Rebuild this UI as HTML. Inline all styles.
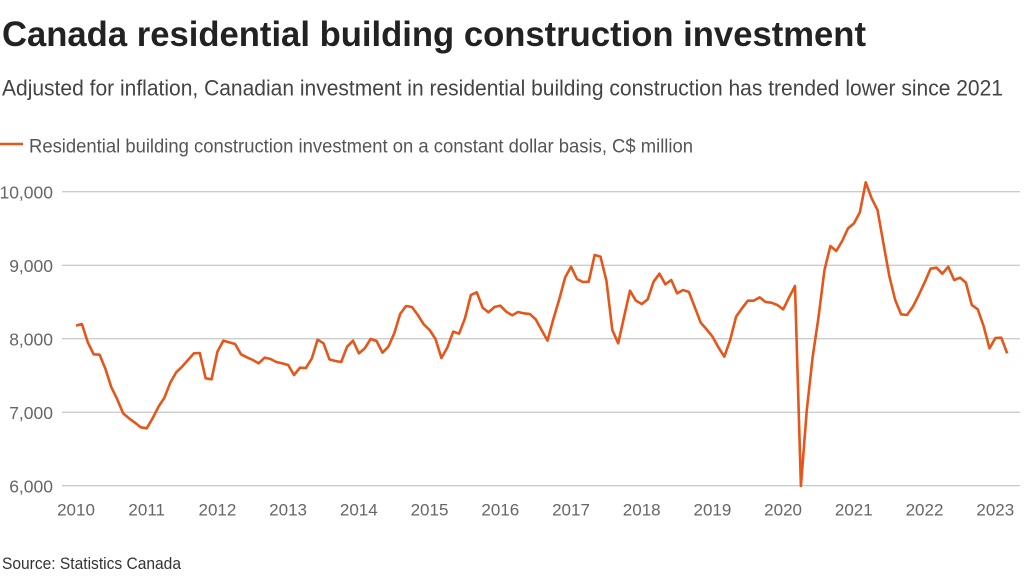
<!DOCTYPE html>
<html>
<head>
<meta charset="utf-8">
<style>
  html,body{margin:0;padding:0;background:#fff;}
  svg{display:block;}
  text{font-family:"Liberation Sans",sans-serif;}
</style>
</head>
<body>
<svg width="1024" height="577" viewBox="0 0 1024 577" xmlns="http://www.w3.org/2000/svg">
  <rect width="1024" height="577" fill="#fff"/>
  <text x="2" y="46" font-size="35" font-weight="bold" fill="#222" textLength="864" lengthAdjust="spacingAndGlyphs">Canada residential building construction investment</text>
  <text x="2" y="95.5" font-size="22" fill="#444" textLength="1001" lengthAdjust="spacingAndGlyphs">Adjusted for inflation, Canadian investment in residential building construction has trended lower since 2021</text>
  <line x1="0" y1="144" x2="23" y2="144" stroke="#e5561a" stroke-width="2.5"/>
  <text x="29" y="152.5" font-size="19" fill="#555" textLength="664" lengthAdjust="spacingAndGlyphs">Residential building construction investment on a constant dollar basis, C$ million</text>

  <g stroke="#cccccc" stroke-width="1.3">
    <line x1="62" y1="191.7" x2="1020" y2="191.7"/>
    <line x1="62" y1="265.3" x2="1020" y2="265.3"/>
    <line x1="62" y1="338.7" x2="1020" y2="338.7"/>
    <line x1="62" y1="412.3" x2="1020" y2="412.3"/>
    <line x1="62" y1="485.7" x2="1020" y2="485.7"/>
  </g>
  <g font-size="17.5" fill="#666" text-anchor="end">
    <text x="53" y="198.5">10,000</text>
    <text x="53" y="272">9,000</text>
    <text x="53" y="345.5">8,000</text>
    <text x="53" y="419">7,000</text>
    <text x="53" y="492.5">6,000</text>
  </g>
  <g font-size="17" fill="#666" text-anchor="middle">
    <text x="76" y="515.7">2010</text>
    <text x="146.7" y="515.7">2011</text>
    <text x="217.4" y="515.7">2012</text>
    <text x="288.1" y="515.7">2013</text>
    <text x="358.8" y="515.7">2014</text>
    <text x="429.5" y="515.7">2015</text>
    <text x="500.3" y="515.7">2016</text>
    <text x="571" y="515.7">2017</text>
    <text x="641.7" y="515.7">2018</text>
    <text x="712.4" y="515.7">2019</text>
    <text x="783.1" y="515.7">2020</text>
    <text x="853.8" y="515.7">2021</text>
    <text x="924.5" y="515.7">2022</text>
    <text x="995.3" y="515.7">2023</text>
  </g>

  <polyline transform="translate(76,170) scale(5.8935,0.333333)" vector-effect="non-scaling-stroke" fill="none" stroke="#e5561a" stroke-width="2.6" stroke-linejoin="round" stroke-linecap="butt"
    points="0,467 1,462 2,517 3,553 4,554 5,597 6,652 7,688 8,730 9,745 10,758 11,772 12,775 13,745 14,710 15,683 16,638 17,607 18,590 19,570 20,550 21,549 22,625 23,628 24,545 25,512 26,517 27,522 28,553 29,562 30,570 31,580 32,563 33,567 34,576 35,580 36,585 37,615 38,593 39,594 40,566 41,509 42,520 43,568 44,573 45,576 46,530 47,512 48,550 49,535 50,507 51,513 52,548 53,530 54,490 55,432 56,408 57,411 58,435 59,463 60,480 61,507 62,564 63,533 64,485 65,491 66,445 67,375 68,367 69,413 70,427 71,411 72,407 73,425 74,436 75,426 76,430 77,432 78,448 79,480 80,512 81,447 82,388 83,322 84,290 85,327 86,336 87,335 88,255 89,260 90,332 91,480 92,520 93,440 94,362 95,392 96,402 97,388 98,335 99,311 100,343 101,330 102,370 103,360 104,366 105,412 106,458 107,478 108,500 109,532 110,560 111,510 112,440 113,415 114,392 115,392 116,382 117,396 118,398 119,405 120,418 121,382 122,348 123,948 124,720 125,560 126,440 127,300 128,228 129,243 130,213 131,175 132,160 133,127 134,37 135,85 136,120 137,220 138,318 139,390 140,433 141,435 142,410 143,375 144,337 145,296 146,293 147,311 148,290 149,330 150,323 151,338 152,405 153,418 154,468 155,535 156,504 157,503 158,550"/>

  <text x="2" y="569" font-size="16.5" fill="#333" textLength="179" lengthAdjust="spacingAndGlyphs">Source: Statistics Canada</text>
</svg>
</body>
</html>
